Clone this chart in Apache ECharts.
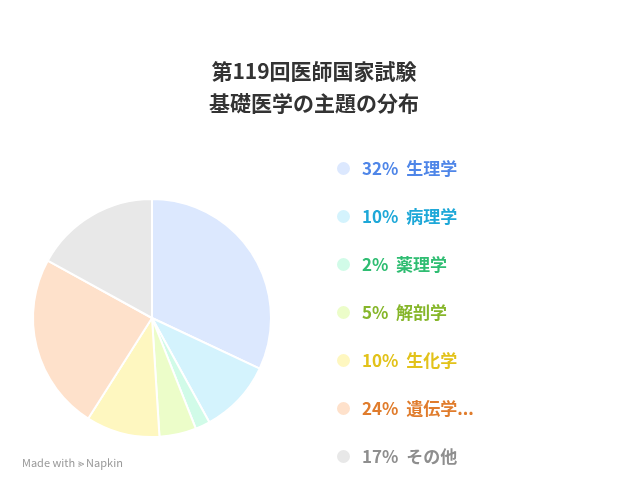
<!DOCTYPE html>
<html>
<head>
<meta charset="utf-8">
<script src="https://cdn.jsdelivr.net/npm/echarts@6/dist/echarts.min.js"></script>
<style>
  html, body { margin: 0; padding: 0; background: #fff; }
  #main { width: 628px; height: 492px; }
</style>
</head>
<body>
<div id="main"></div>
<script>
var categories = ['生理学', '病理学', '薬理学', '解剖学', '生化学', '遺伝学...', 'その他'];
var values = [32, 10, 2, 5, 10, 24, 17];
var sliceColors = ['#dce8fe', '#d4f3fd', '#d1fbe8', '#ecfdc9', '#fef7c0', '#fee1cb', '#e8e8e8'];
var textColors = ['#4f86e8', '#1ea8d8', '#2fbd72', '#86b62a', '#e2c21a', '#e07c2c', '#8e8e8e'];

var myChart = echarts.init(document.getElementById('main'));
var font = '"Noto Sans CJK JP", "Noto Sans", sans-serif';

var option = {
    backgroundColor: '#fff',
    title: {
        text: '第119回医師国家試験\n基礎医学の主題の分布',
        left: 'center',
        top: 50,
        textStyle: { fontSize: 21, fontWeight: 'bold', color: '#333', lineHeight: 32, fontFamily: font }
    },
    legend: {
        orient: 'vertical',
        left: 330,
        top: 155,
        icon: 'circle',
        itemWidth: 15,
        itemHeight: 15,
        itemGap: 31,
        selectedMode: false,
        data: categories.map(function (c, i) {
            return { name: c, textStyle: { color: textColors[i] } };
        }),
        formatter: function (name) {
            return values[categories.indexOf(name)] + '%  ' + name;
        },
        textStyle: { fontSize: 17, fontWeight: 'bold', fontFamily: font, padding: [0, 0, 0, 6] }
    },
    graphic: [{
        type: 'text', left: 22, top: 457,
        style: { text: 'Made with ⪢ Napkin', fill: '#999', fontSize: 11, fontFamily: font }
    }],
    series: [{
        type: 'pie',
        center: [152, 318],
        radius: [0, 119],
        startAngle: 90,
        clockwise: true,
        label: { show: false },
        labelLine: { show: false },
        silent: true,
        itemStyle: { borderColor: '#fff', borderWidth: 2 },
        data: categories.map(function (c, i) {
            return { name: c, value: values[i], itemStyle: { color: sliceColors[i] } };
        })
    }]
};
myChart.setOption(option);
</script>
</body>
</html>
